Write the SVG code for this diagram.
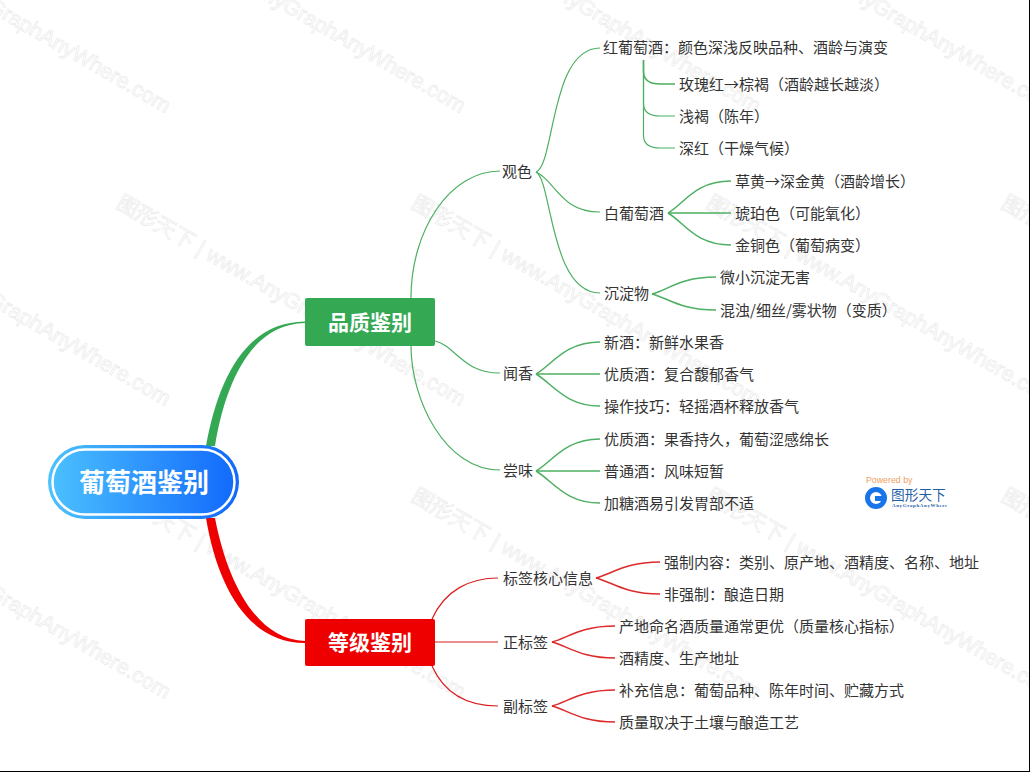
<svg xmlns="http://www.w3.org/2000/svg" xmlns:xlink="http://www.w3.org/1999/xlink" width="1030" height="772" viewBox="0 0 1030 772">
<style>
text{font-family:"Noto Sans CJK SC","Liberation Sans",sans-serif}
.wm{font-size:21.5px;fill:#fff;stroke:#e8e8e8;stroke-width:.6px;font-family:"Liberation Sans","Noto Sans CJK SC",sans-serif}
.t{font-size:15px;fill:#333;dominant-baseline:central}
.b{font-size:21px;font-weight:700;fill:#fff;text-anchor:middle;dominant-baseline:central}
.g,.r{fill:none;stroke-width:1.2}
.g{stroke:#4caf62}
.r{stroke:#d81e1e}
.g2,.r2{fill:none;stroke-width:1.5}
.g2{stroke:#4caf62}
.r2{stroke:#dc2a2a}
</style>
<defs>
<linearGradient id="rootFill" x1="0" y1="0" x2="1" y2="0"><stop offset="0" stop-color="#4cc2ff"/><stop offset="1" stop-color="#1168fb"/></linearGradient>
<text id="wmt" class="wm" transform="rotate(30)">图形天下 | www.AnyGraphAnyWhere.com</text>
</defs>
<rect width="1030" height="772" fill="#fff"/>
<g id="watermark">
<use xlink:href="#wmt" transform="translate(-180,-86)"/><use xlink:href="#wmt" transform="translate(115,-86)"/><use xlink:href="#wmt" transform="translate(410,-86)"/><use xlink:href="#wmt" transform="translate(705,-86)"/><use xlink:href="#wmt" transform="translate(1000,-86)"/>
<use xlink:href="#wmt" transform="translate(-180,207)"/><use xlink:href="#wmt" transform="translate(115,207)"/><use xlink:href="#wmt" transform="translate(410,207)"/><use xlink:href="#wmt" transform="translate(705,207)"/><use xlink:href="#wmt" transform="translate(1000,207)"/>
<use xlink:href="#wmt" transform="translate(-180,500)"/><use xlink:href="#wmt" transform="translate(115,500)"/><use xlink:href="#wmt" transform="translate(410,500)"/><use xlink:href="#wmt" transform="translate(705,500)"/><use xlink:href="#wmt" transform="translate(1000,500)"/>
</g>
<g id="connectors">
<path d="M206 446 C218 380 245 322 305 321.500 L305 323 C250 324 225 385 215 446Z" fill="#34a853"/>
<path d="M206 518 C218 590 250 643 305 643 L305 641 C258 640 228 585 215 518Z" fill="#ee0000"/>
<path class="g" d="M411 298 C411 230 450 171 500 171"/>
<path class="g" d="M435 341 C455 345 462 373 500 373"/>
<path class="g" d="M411 346 C411 400 445 470 500 470"/>
<path class="g" d="M536 172 C555 165 550 48 600 48"/>
<path class="g" d="M536 172 C555 180 560 212 600 212"/>
<path class="g" d="M536 172 C552 180 550 293 600 293"/>
<path class="g2" d="M643.500 60 V72 Q644 84 660 84 H675" stroke-width="1.800"/>
<path class="g" d="M643.500 60 V104 Q644 116 660 116 H675"/>
<path class="g" d="M643.500 60 V136 Q644 148 660 148 H675"/>
<path class="g2" d="M668 213 C685 203 695 181 731 181"/>
<path class="g2" d="M668 213 H731"/>
<path class="g2" d="M668 213 C685 223 695 245 731 245"/>
<path class="g2" d="M652 294 C668 290 680 277 716 277"/>
<path class="g2" d="M652 294 C668 298 680 310 716 310"/>
<path class="g2" d="M536 374 C553 364 565 342 600 342"/>
<path class="g2" d="M536 374 H600"/>
<path class="g2" d="M536 374 C553 384 565 406 600 406"/>
<path class="g2" d="M536 471 C553 461 565 439 600 439"/>
<path class="g2" d="M536 471 H600"/>
<path class="g2" d="M536 471 C553 481 565 503 600 503"/>
<path class="r" d="M432 619 C445 590 470 578 498 578"/>
<path class="r" d="M435 642 H498"/>
<path class="r" d="M432 666 C445 695 470 706 498 706"/>
<path class="r2" d="M596 578 C612 574 625 562 660 562"/>
<path class="r2" d="M596 578 C612 582 625 594 660 594"/>
<path class="r2" d="M552 642 C568 638 580 626 615 626"/>
<path class="r2" d="M552 642 C568 646 580 658 615 658"/>
<path class="r2" d="M552 706 C568 702 580 690 615 690"/>
<path class="r2" d="M552 706 C568 710 580 722 615 722"/>
</g>
<g id="root">
<rect x="48" y="445" width="191" height="74" rx="37" fill="url(#rootFill)"/>
<rect x="52.500" y="449.500" width="182" height="65" rx="32.500" fill="none" stroke="#fff" stroke-width="2.500"/>
<text x="144" y="480" text-anchor="middle" dominant-baseline="central" font-size="26" font-weight="700" fill="#fff">葡萄酒鉴别</text>
</g>
<g id="n-quality"><rect x="305" y="298" width="130" height="48" rx="2" fill="#34a853"/><text class="b" x="370" y="321">品质鉴别</text></g>
<g id="n-grade"><rect x="305" y="619" width="130" height="47" rx="2" fill="#ee0000"/><text class="b" x="370" y="641">等级鉴别</text></g>
<g id="n1"><text class="t" x="502" y="170">观色</text></g>
<g id="n2"><text class="t" x="603" y="46">红葡萄酒：颜色深浅反映品种、酒龄与演变</text></g>
<g id="n3"><text class="t" x="679" y="83">玫瑰红→棕褐（酒龄越长越淡）</text></g>
<g id="n4"><text class="t" x="679" y="115">浅褐（陈年）</text></g>
<g id="n5"><text class="t" x="679" y="147">深红（干燥气候）</text></g>
<g id="n6"><text class="t" x="604" y="212">白葡萄酒</text></g>
<g id="n7"><text class="t" x="735" y="180">草黄→深金黄（酒龄增长）</text></g>
<g id="n8"><text class="t" x="735" y="212">琥珀色（可能氧化）</text></g>
<g id="n9"><text class="t" x="735" y="244">金铜色（葡萄病变）</text></g>
<g id="n10"><text class="t" x="604" y="292">沉淀物</text></g>
<g id="n11"><text class="t" x="720" y="276">微小沉淀无害</text></g>
<g id="n12"><text class="t" x="720" y="309">混浊/细丝/雾状物（变质）</text></g>
<g id="n13"><text class="t" x="503" y="372">闻香</text></g>
<g id="n14"><text class="t" x="604" y="341">新酒：新鲜水果香</text></g>
<g id="n15"><text class="t" x="604" y="373">优质酒：复合馥郁香气</text></g>
<g id="n16"><text class="t" x="604" y="405">操作技巧：轻摇酒杯释放香气</text></g>
<g id="n17"><text class="t" x="503" y="469">尝味</text></g>
<g id="n18"><text class="t" x="604" y="438">优质酒：果香持久，葡萄涩感绵长</text></g>
<g id="n19"><text class="t" x="604" y="470">普通酒：风味短暂</text></g>
<g id="n20"><text class="t" x="604" y="502">加糖酒易引发胃部不适</text></g>
<g id="n21"><text class="t" x="503" y="577">标签核心信息</text></g>
<g id="n22"><text class="t" x="664" y="561">强制内容：类别、原产地、酒精度、名称、地址</text></g>
<g id="n23"><text class="t" x="664" y="593">非强制：酿造日期</text></g>
<g id="n24"><text class="t" x="503" y="641">正标签</text></g>
<g id="n25"><text class="t" x="619" y="625">产地命名酒质量通常更优（质量核心指标）</text></g>
<g id="n26"><text class="t" x="619" y="657">酒精度、生产地址</text></g>
<g id="n27"><text class="t" x="503" y="705">副标签</text></g>
<g id="n28"><text class="t" x="619" y="689">补充信息：葡萄品种、陈年时间、贮藏方式</text></g>
<g id="n29"><text class="t" x="619" y="721">质量取决于土壤与酿造工艺</text></g>
<g id="logo">
<text x="866" y="483" font-size="8.800px" fill="#f0a060" style="font-family:'Liberation Sans',sans-serif">Powered by</text>
<circle cx="876" cy="498" r="8.500" fill="none" stroke="#1a73e8" stroke-width="5"/>
<rect x="875" y="496" width="9" height="5" fill="#1a73e8"/>
<text x="891" y="500" font-size="13.700px" fill="#1f5fa8">图形天下</text>
<text x="892" y="507" font-size="5px" fill="#1f5fa8" letter-spacing=".6" style="font-family:'Liberation Serif',serif" font-weight="700">AnyGraphAnyWhere</text>
</g>
<g id="frame" fill="#000"><rect x="0" y="771" width="1030" height="1"/><rect x="1029" y="0" width="1" height="772"/></g>
</svg>
